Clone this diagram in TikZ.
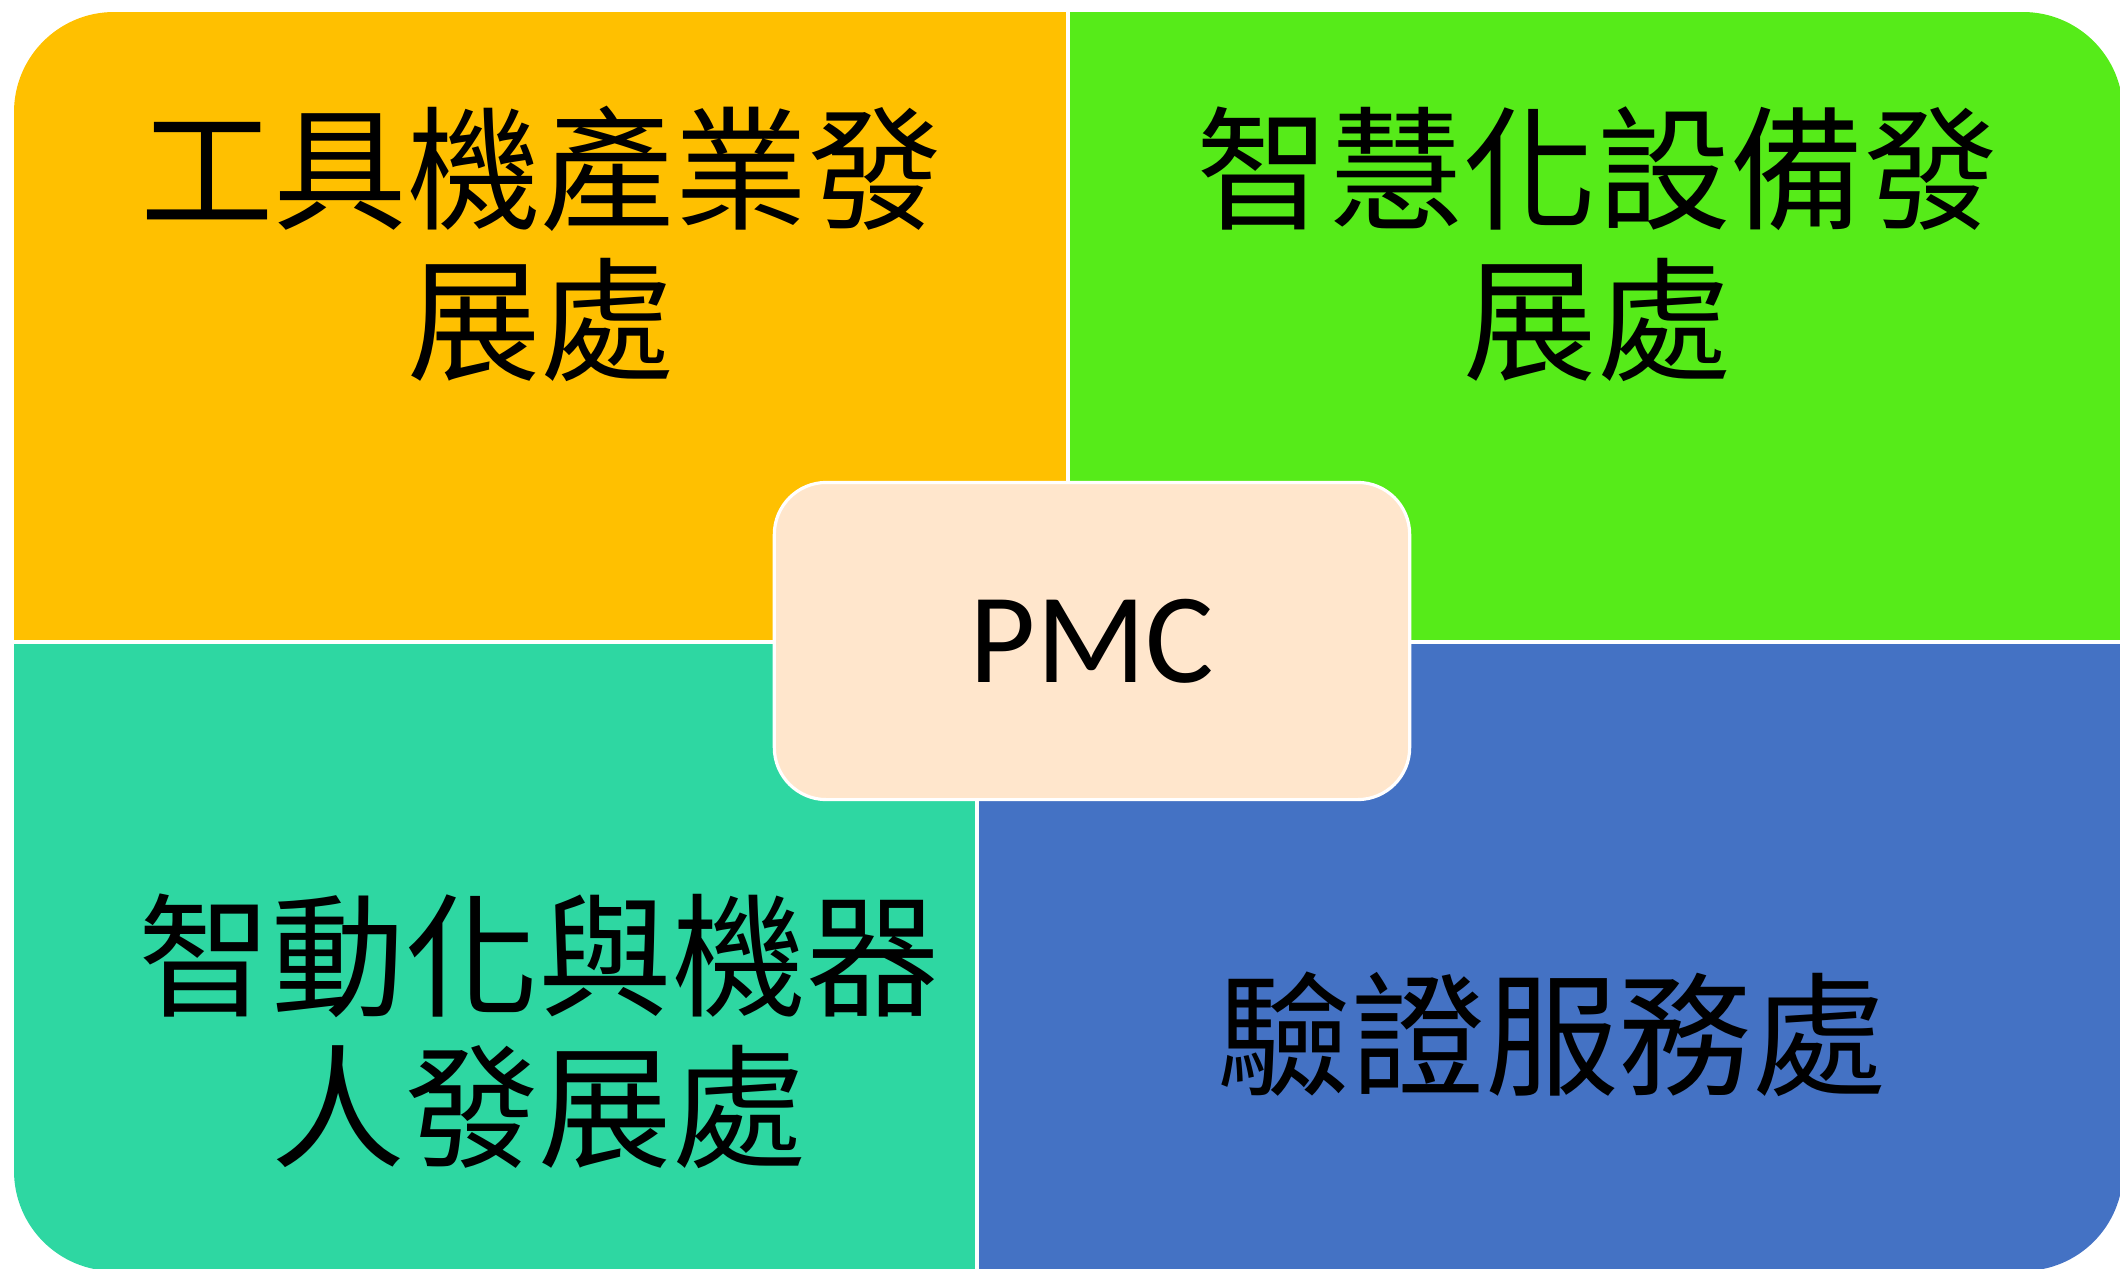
\documentclass[tikz,border=0pt]{standalone}
\usepackage{fontspec}
\setmainfont{Carlito}
\newfontfamily\cjk{Noto Sans CJK TC}
\usepackage{tikz}
\usetikzlibrary{positioning}

\definecolor{toolcol}{HTML}{FFC000}
\definecolor{smartcol}{HTML}{56EB19}
\definecolor{robotcol}{HTML}{2ED7A2}
\definecolor{testcol}{HTML}{4472C4}
\definecolor{pmccol}{HTML}{FFE6CC}

\begin{document}
\begin{tikzpicture}[
  x=0.01cm, y=-0.01cm,
  divider/.style={white, line width=0.9pt},
  dept/.style={align=center, inner sep=0pt, font=\cjk\fontsize{38}{43}\selectfont},
  hub/.style={draw=white, line width=0.9pt, fill=pmccol, rounded corners=0.52cm,
    minimum width=6.35cm, minimum height=3.17cm, font=\fontsize{36.5}{40}\selectfont}
]
  \useasboundingbox (0,0) rectangle (2120,1269);

  % four quadrants inside one rounded outline
  \begin{scope}
    \clip[rounded corners=1cm] (14,12) rectangle (2123,1271);
    \fill[toolcol] (14,12) rectangle (1068,642);
    \fill[smartcol] (1068,12) rectangle (2123,642);
    \fill[robotcol] (14,642) rectangle (977,1271);
    \fill[testcol] (977,642) rectangle (2123,1271);
    \draw[divider] (1068,12) -- (1068,642);
    \draw[divider] (14,642) -- (2123,642);
    \draw[divider] (977,642) -- (977,1271);
  \end{scope}

  \node[hub] (pmc) at (1092,641) {PMC};

  \node[dept] (tool) at (541,244) {工具機產業發\\展處};
  \node[dept] (smart) at (1597,244) {智慧化設備發\\展處};
  \node[dept] (robot) at (539,1031) {智動化與機器\\人發展處};
  \node[dept] (test) at (1552,1034) {驗證服務處};
\end{tikzpicture}
\end{document}
